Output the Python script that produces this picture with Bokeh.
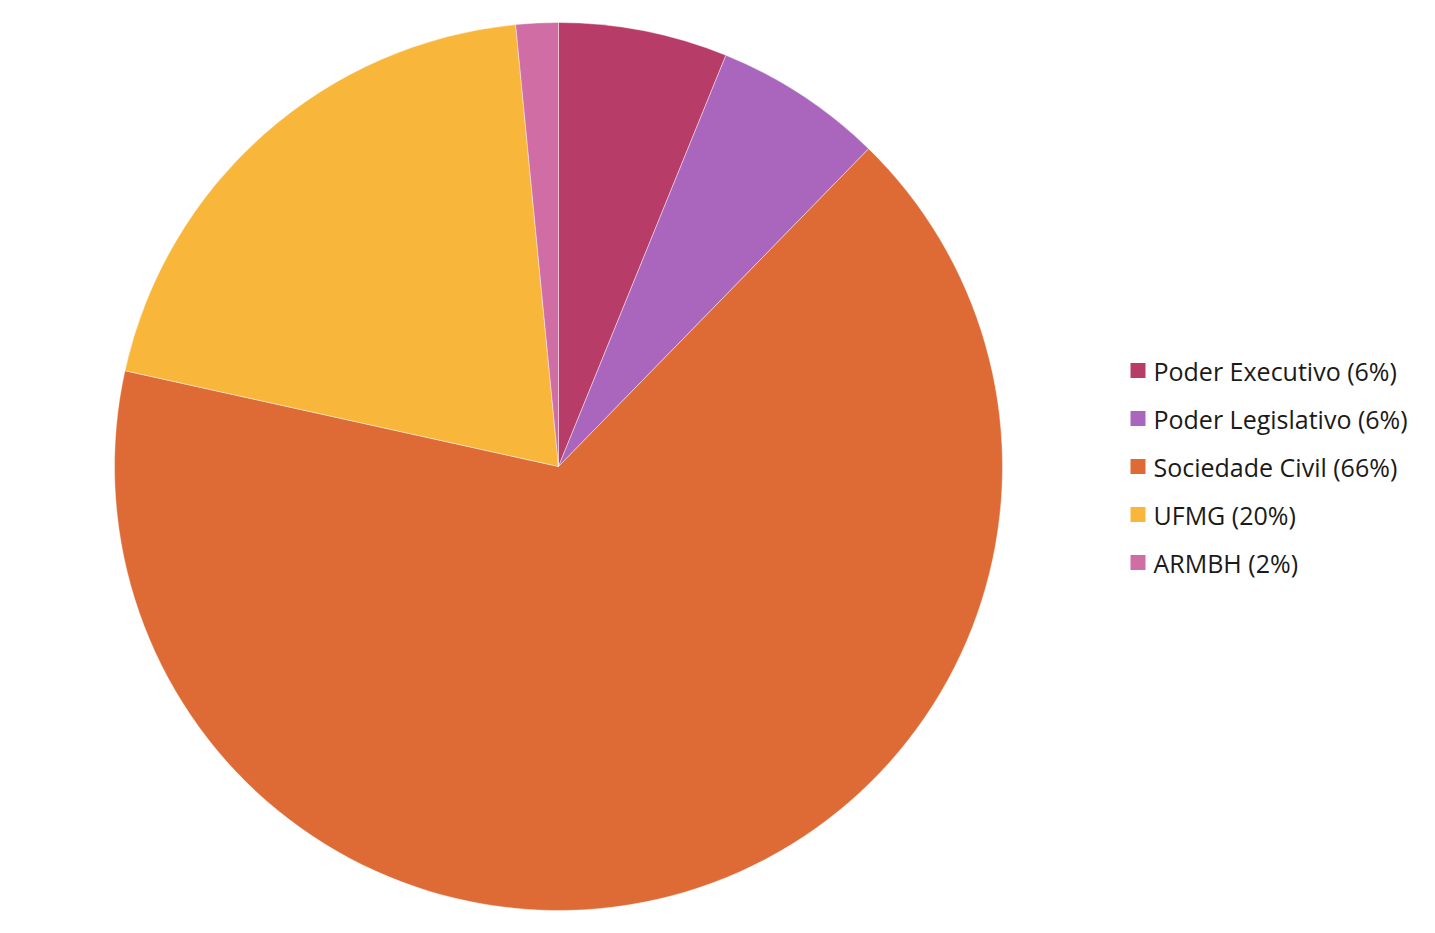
import numpy as np
import pandas as pd
from bokeh.plotting import figure
from bokeh.models import Range1d, ColumnDataSource
from bokeh.core.properties import value
from bokeh.embed import file_html
from bokeh.resources import INLINE

categories = ["Poder Executivo", "Poder Legislativo", "Sociedade Civil", "UFMG", "ARMBH"]
counts = [4, 4, 43, 13, 1]
labels = ["Poder Executivo (6%)", "Poder Legislativo (6%)", "Sociedade Civil (66%)", "UFMG (20%)", "ARMBH (2%)"]
colors = ["#B83C68", "#AA66BC", "#DE6B36", "#F8B63B", "#CF6DA4"]

W, H = 1419, 917
df = pd.DataFrame({"cat": categories, "count": counts, "label": labels, "color": colors})
frac = df["count"] / df["count"].sum()
cum = frac.cumsum()
df["start"] = np.pi / 2 - 2 * np.pi * (cum - frac)
df["end"] = np.pi / 2 - 2 * np.pi * cum

p = figure(width=W, height=H, output_backend="svg", toolbar_location=None,
           x_range=Range1d(0, W), y_range=Range1d(0, H), min_border=0)
p.axis.visible = False
p.grid.visible = False
p.outline_line_color = None
p.background_fill_color = "white"

cx, cy, r = 558, H - 466, 444
src = ColumnDataSource(df)
p.wedge(x=cx, y=cy, radius=r, start_angle="start", end_angle="end", direction="clock",
        fill_color="color", line_color="white", line_width=0.6, line_alpha=0.7, source=src)

# legend
ly = [H - 370 - 48 * i for i in range(len(categories))]
leg = ColumnDataSource(dict(x=[1137.5] * len(categories), y=ly, color=colors,
                            tx=[1153] * len(categories), label=labels))
p.rect(x="x", y="y", width=15, height=15, fill_color="color", line_color=None, source=leg)
p.text(x="tx", y="y", text="label", text_font=value("Open Sans"), text_font_size="25px",
       text_baseline="middle", text_align="left", text_color="#1a1a1a", source=leg)

open("out.html", "w").write(file_html(p, INLINE))
